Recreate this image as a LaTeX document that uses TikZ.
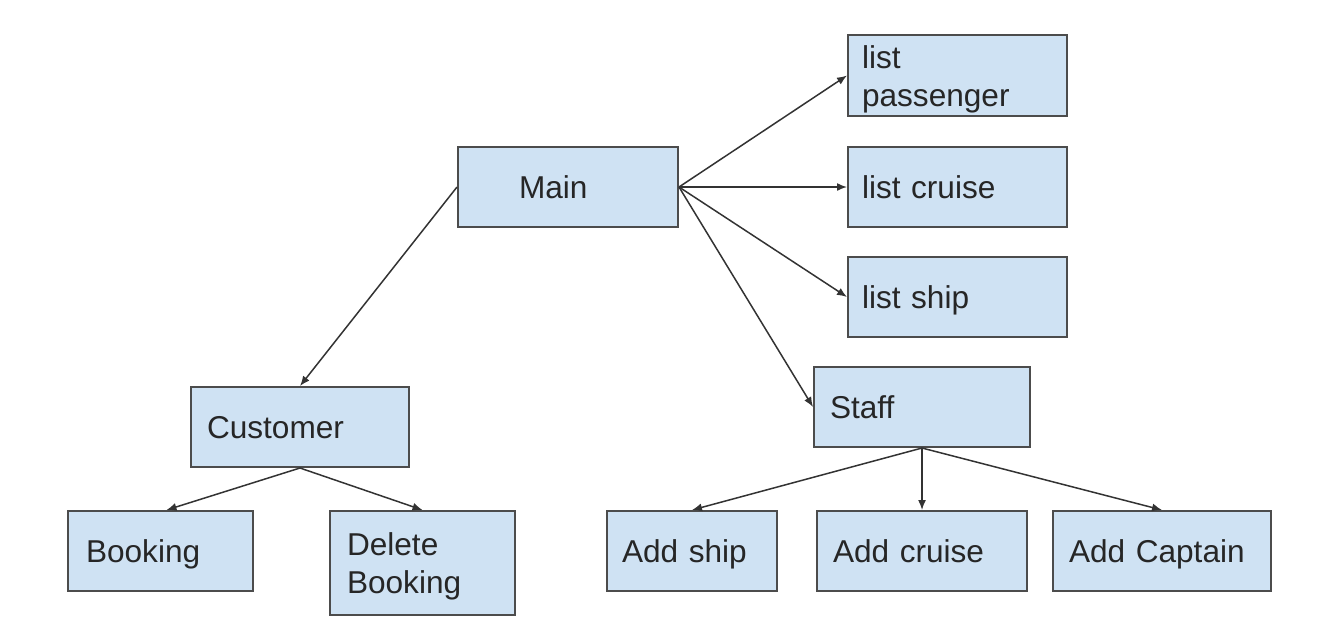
\documentclass[tikz,border=0pt]{standalone}
\usepackage{fontspec}
\setmainfont{Liberation Sans}
\usetikzlibrary{arrows.meta}
\definecolor{boxblue}{HTML}{CFE2F3}
\tikzset{
  box/.style={draw=black!70, fill=boxblue, line width=1pt, minimum height=40pt,
    inner xsep=8pt, align=left, text=black!85, text height=11.5pt, text depth=0pt,
    font=\fontsize{15.8}{19}\selectfont},
  twoline/.style={text depth=19pt},
  link/.style={draw=black!80, line width=0.75pt, -{Latex[length=5pt,width=4pt]}}
}
\begin{document}
\begin{tikzpicture}[x=0.5pt,y=-0.5pt]
  \useasboundingbox (0,0) rectangle (1320,638);

  % Main and the three lists
  \node[box, inner xsep=30.5pt, text width=49pt] (main) at (568,187) {Main};
  \node[box, twoline, inner xsep=7pt, text width=95.5pt, minimum height=40.5pt] (lpass) at (957.5,75.5) {list\\passenger};
  \node[box, inner xsep=7pt, text width=95.5pt] (lcruise) at (957.5,187) {list cruise};
  \node[box, inner xsep=7pt, text width=95.5pt] (lship) at (957.5,297) {list ship};

  % Staff side
  \node[box, text width=92pt] (staff) at (922,407) {Staff};
  \node[box, inner xsep=7.5pt, text width=70pt] (addship) at (692,551) {Add ship};
  \node[box, text width=89pt] (addcruise) at (922,551) {Add cruise};
  \node[box, text width=93pt] (addcap) at (1162,551) {Add Captain};

  % Customer side
  \node[box, text width=93pt] (customer) at (300,427) {Customer};
  \node[box, inner xsep=9pt, text width=74.5pt] (booking) at (160.5,551) {Booking};
  \node[box, twoline, inner xsep=8.5pt, text width=75.5pt, minimum height=52pt] (delete) at (422.5,563) {Delete\\Booking};

  \draw[link] (main.east) -- (lpass.west);
  \draw[link] (main.east) -- (lcruise.west);
  \draw[link] (main.east) -- (lship.west);
  \draw[link] (main.east) -- (staff.west);
  \draw[link] (main.west) -- (customer.north);

  \draw[link] (customer.south) -- ([xshift=3pt]booking.north);
  \draw[link] (customer.south) -- (delete.north);

  \draw[link] (staff.south) -- (addship.north);
  \draw[link] (staff.south) -- (addcruise.north);
  \draw[link] (staff.south) -- (addcap.north);
\end{tikzpicture}
\end{document}
